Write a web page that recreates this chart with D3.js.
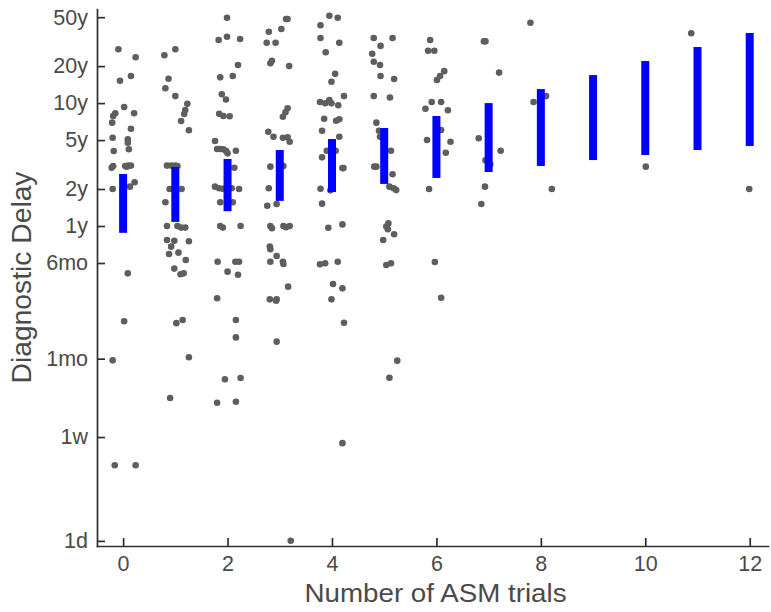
<!DOCTYPE html>
<html>
<head>
<meta charset="utf-8">
<script src="https://cdn.jsdelivr.net/npm/d3@7"></script>
<style>
  body { margin: 0; background: #fff; }
  svg { display: block; }
  .axis path, .axis line { stroke: #2e2e2e; stroke-width: 1.7px; }
  .axis text { fill: #4a4a4a; font-family: "Liberation Sans", Arial, sans-serif; font-size: 21.5px; }
  .axis-label { fill: #4a4a4a; font-family: "Liberation Sans", Arial, sans-serif; }
</style>
</head>
<body>
<div id="chart"></div>
<script>
// delay values are in years
var trials = [0, 1, 2, 3, 4, 5, 6, 7, 8, 9, 10, 11, 12];
var ciLow  = [0.88, 1.08, 1.32, 1.60, 1.89, 2.20, 2.46, 2.75, 3.08, 3.44, 3.78, 4.15, 4.48];
var ciHigh = [2.65, 3.02, 3.51, 4.15, 5.10, 6.27, 7.85, 10.0, 13.0, 16.9, 22.0, 28.6, 37.2];

var yTickValues = [1/365, 7/365, 1/12, 0.5, 1, 2, 5, 10, 20, 50];
var yTickLabels = ["1d", "1w", "1mo", "6mo", "1y", "2y", "5y", "10y", "20y", "50y"];
var xTickValues = [0, 2, 4, 6, 8, 10, 12];

// jittered points: [trials + jitter, delay in years]
var points0 = [[-0.09,27.4],[0.24,23.6],[-0.06,15.2],[0.15,16.6],[0.02,9.29],[-0.15,8.26],[-0.19,7.85],[0.21,8.26],
  [-0.21,6.93],[0.15,6.19],[-0.20,5.23],[0.09,5.07],[0.09,4.76],[-0.18,4.08],[0.11,4.21],[-0.19,3.08],[-0.22,2.98],
  [0.04,3.08],[0.10,3.1],[0.15,3.1],[0.07,3.04],[0.22,2.27],[0.13,2.09],[-0.20,2.0],[0.09,0.412],[0.02,0.168],
  [-0.20,0.0807],[-0.16,0.0113],[0.24,0.0113]];
var points1 = [[0.79,24.5],[1.0,27.4],[0.87,15.8],[0.81,13.2],[1.0,11.4],[1.23,9.89],[1.19,8.79],[1.17,8.15],[1.11,7.15],
  [1.26,6.01],[0.84,3.1],[0.92,3.1],[1.0,3.1],[1.04,3.08],[0.89,2.0],[0.98,2.0],[1.12,2.0],[0.81,1.56],[0.84,1.0],
  [1.04,1.0],[1.11,0.97],[1.19,0.97],[0.84,0.769],[0.98,0.759],[0.92,0.679],[1.26,0.751],[0.88,0.592],[1.06,0.607],
  [1.20,0.529],[0.98,0.45],[1.10,0.405],[1.16,0.412],[1.02,0.162],[1.14,0.172],[1.26,0.0855],[0.90,0.0398]];
var points2 = [[1.99,49.5],[1.83,32.6],[1.99,34.7],[2.24,33.2],[2.20,20.4],[1.86,16.2],[2.10,16.6],[1.89,11.8],[1.97,10.7],
  [1.84,8.20],[1.92,7.85],[2.04,7.81],[1.76,4.92],[1.80,4.23],[1.86,4.23],[1.92,4.21],[1.97,4.10],[2.00,3.90],[2.16,4.10],
  [2.13,2.98],[1.76,2.09],[1.84,2.03],[1.91,2.01],[2.08,2.03],[2.22,2.0],[1.86,1.56],[2.10,1.56],[1.86,1.0],[1.91,0.97],
  [2.25,1.0],[1.81,0.512],[2.15,0.512],[2.22,0.512],[2.00,0.425],[2.20,0.401],[1.80,0.258],[2.16,0.172],[2.16,0.124],
  [1.95,0.0566],[2.25,0.0579],[1.80,0.0365],[2.16,0.0372]];
var points3 = [[3.12,48.3],[3.15,48.3],[3.03,40.1],[2.79,38.1],[2.75,31.0],[2.92,31.0],[2.85,22.1],[2.82,21.1],[3.18,20.0],
  [3.15,9.07],[3.11,8.41],[3.06,7.75],[2.78,5.85],[2.88,5.33],[3.06,5.23],[3.15,5.27],[3.19,4.85],[2.82,3.04],[3.07,3.08],
  [2.79,2.03],[2.76,1.46],[2.94,1.51],[2.82,1.0],[2.85,0.958],[3.07,1.0],[3.12,0.976],[3.19,1.0],[2.81,0.679],[2.82,0.646],
  [2.94,0.570],[2.82,0.512],[3.06,0.512],[3.07,0.491],[3.16,0.321],[2.81,0.253],[2.94,0.253],[2.93,0.247],[2.94,0.1145],
  [3.21,0.00275]];
var points4 = [[3.95,51.4],[4.11,49.5],[3.78,43.0],[3.78,33.9],[4.14,31.0],[3.88,25.9],[4.06,17.3],[3.99,14.9],[4.23,11.4],
  [3.77,10.2],[3.87,9.96],[3.95,10.6],[3.99,9.96],[4.12,9.60],[3.85,7.46],[4.08,7.19],[4.14,7.38],[3.81,5.96],[4.14,5.33],
  [3.90,4.10],[4.07,4.10],[3.81,3.62],[4.20,2.96],[4.22,2.96],[3.78,2.01],[3.97,1.95],[3.81,1.52],[3.93,0.969],[4.20,1.03],
  [3.77,0.488],[3.87,0.497],[4.11,0.512],[4.02,0.337],[4.20,0.311],[3.99,0.253],[4.23,0.163],[4.20,0.0171]];
var points5 = [[4.80,33.9],[5.16,33.9],[4.93,29.2],[4.77,25.2],[4.80,21.7],[4.92,20.4],[4.93,16.6],[5.19,15.7],[4.80,11.4],
  [5.11,11.1],[4.85,6.93],[4.90,5.96],[4.92,5.33],[5.13,4.10],[4.81,3.04],[4.85,3.04],[5.16,2.64],[5.10,2.09],[5.18,2.03],
  [5.23,1.96],[5.08,1.05],[5.04,0.99],[5.07,0.94],[5.19,0.856],[4.98,0.769],[5.04,0.482],[5.13,0.497],[5.25,0.0802],
  [5.10,0.0583]];
var points6 = [[5.88,32.6],[5.84,26.7],[5.96,26.7],[6.15,18.2],[6.07,16.6],[6.01,15.4],[5.91,10.2],[6.09,10.2],[5.79,9.0],
  [6.22,8.74],[6.09,6.04],[5.82,5.01],[6.27,4.85],[6.18,3.95],[5.86,2.0],[5.97,0.509],[6.09,0.261]];
var points7 = [[6.91,31.8],[6.94,31.8],[7.20,17.7],[6.81,5.17],[7.23,4.10],[6.94,3.42],[7.03,3.18],[6.93,2.09],[6.86,1.51]];
var points8 = [[7.80,45.1],[7.86,10.2],[8.10,11.4],[8.21,2.0]];
var points10 = [[10.01,3.04]];
var points11 = [[10.88,37.0]];
var points12 = [[11.99,2.0]];

var margin = {top: 9, right: 3, bottom: 66, left: 97},
    width = 771 - margin.left - margin.right,
    height = 612 - margin.top - margin.bottom;

var allPoints = [].concat(points0, points1, points2, points3, points4, points5, points6,
                          points7, points8, points10, points11, points12);

var svg = d3.select("#chart")
  .append("svg")
    .attr("width", 771)
    .attr("height", 612);

var g = svg.append("g")
  .attr("transform", "translate(" + margin.left + "," + margin.top + ")");

var x = d3.scaleLinear().domain([-0.5, 12.35]).range([0, width]);
var y = d3.scaleLog().domain([0.00249, 58.3]).range([height, 0]);

var xAxis = d3.axisBottom(x)
  .tickValues(xTickValues)
  .tickFormat(d3.format("d"))
  .tickSizeInner(-8)
  .tickSizeOuter(0)
  .tickPadding(10);

var yAxis = d3.axisLeft(y)
  .tickValues(yTickValues)
  .tickFormat(function(d, i) { return yTickLabels[i]; })
  .tickSizeInner(-8)
  .tickSizeOuter(0)
  .tickPadding(9);

// scattered points
g.append("g")
  .selectAll("circle")
  .data(allPoints)
  .enter().append("circle")
    .attr("cx", function(d) { return x(d[0]); })
    .attr("cy", function(d) { return y(d[1]); })
    .attr("r", 3.3)
    .attr("fill", "#5e5e5e");

// interval bars
g.append("g")
  .selectAll("rect")
  .data(trials)
  .enter().append("rect")
    .attr("x", function(d) { return x(d) - 4; })
    .attr("width", 8)
    .attr("y", function(d, i) { return y(ciHigh[i]); })
    .attr("height", function(d, i) { return y(ciLow[i]) - y(ciHigh[i]); })
    .attr("fill", "#0000ff");

g.append("g")
  .attr("class", "axis axis--x")
  .attr("transform", "translate(0," + height + ")")
  .call(xAxis);

g.append("g")
  .attr("class", "axis axis--y")
  .call(yAxis);

g.selectAll(".axis .domain").attr("stroke-linecap", "square");

g.append("text")
  .attr("class", "axis-label")
  .attr("x", width / 2 + 3)
  .attr("y", height + 56)
  .attr("text-anchor", "middle")
  .attr("font-size", 25)
  .attr("textLength", 262)
  .attr("lengthAdjust", "spacingAndGlyphs")
  .text("Number of ASM trials");

g.append("text")
  .attr("class", "axis-label")
  .attr("transform", "rotate(-90)")
  .attr("x", -height / 2)
  .attr("y", -66)
  .attr("text-anchor", "middle")
  .attr("font-size", 27)
  .attr("textLength", 212)
  .attr("lengthAdjust", "spacingAndGlyphs")
  .text("Diagnostic Delay");
</script>
</body>
</html>
